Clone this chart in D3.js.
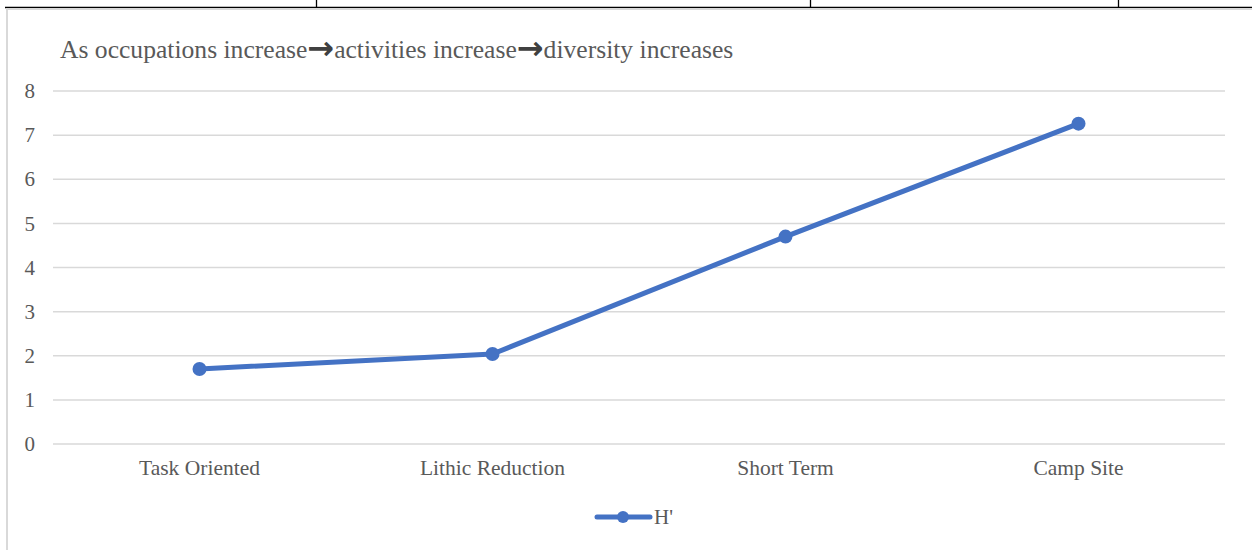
<!DOCTYPE html>
<html><head><meta charset="utf-8">
<script src="https://cdn.jsdelivr.net/npm/d3@7"></script>
<style>body{margin:0;background:#fff;} svg{display:block;}</style>
</head><body>
<svg id="c" width="1252" height="550"></svg>
<script>
const categories = ["Task Oriented", "Lithic Reduction", "Short Term", "Camp Site"];
const hValues = [1.70, 2.04, 4.70, 7.26];
const yTicks = [0, 1, 2, 3, 4, 5, 6, 7, 8];
const seriesName = "H'";
const titleParts = ["As occupations increase", "\u2192", "activities increase", "\u2192", "diversity increases"];

const svg = d3.select("#c");
const font = "'Liberation Serif','Times New Roman',serif";
const blue = "#4472C4";
const grey = "#595959";

// page frame remnants (table lines above chart)
svg.append("line").attr("x1",5).attr("x2",1252).attr("y1",7.5).attr("y2",7.5).attr("stroke","#000").attr("stroke-width",1.3);
[316, 810, 1118].forEach(x => svg.append("line").attr("x1",x+0.5).attr("x2",x+0.5).attr("y1",0).attr("y2",7).attr("stroke","#000").attr("stroke-width",1.3));
// chart border
svg.append("rect").attr("x",7).attr("y",9).attr("width",1260).attr("height",560).attr("fill","none").attr("stroke","#d9d9d9").attr("stroke-width",2);

const x = d3.scaleBand().domain(categories).range([53, 1225]);
const y = d3.scaleLinear().domain([0, 8]).range([444, 91]);

// gridlines
svg.append("g").selectAll("line").data(yTicks).join("line")
  .attr("x1",53).attr("x2",1225).attr("y1",d=>y(d)).attr("y2",d=>y(d))
  .attr("stroke","#d9d9d9").attr("stroke-width",1.5);

// y axis labels
const yAxis = d3.axisLeft(y).tickValues(yTicks).tickSize(0).tickPadding(0).tickFormat(d3.format("d"));
const ga = svg.append("g").attr("transform","translate(35,0)").call(yAxis);
ga.select(".domain").remove();
ga.selectAll("text").attr("font-family",font).attr("font-size",21).attr("fill",grey).attr("dy","0.32em");

// x axis labels
const xAxis = d3.axisBottom(x).tickSize(0).tickPadding(0);
const gx = svg.append("g").attr("transform","translate(0,460)").call(xAxis);
gx.select(".domain").remove();
gx.selectAll("text").attr("font-family",font).attr("font-size",21.5).attr("fill",grey).attr("dy","0.71em");

// title
const t = svg.append("text").attr("x",60).attr("y",58).attr("font-family",font).attr("font-size",25.6).attr("fill",grey);
titleParts.forEach((p,i) => {
  const ts = t.append("tspan").text(p);
  if (p === "\u2192") ts.attr("font-family","'DejaVu Sans',sans-serif").attr("font-weight","bold").attr("font-size",32).attr("fill","#404040").attr("dy",1);
  else if (i > 0) ts.attr("dy",-1);
});

// line
const pts = categories.map((c,i)=>({c, v:hValues[i]}));
const line = d3.line().x(d=>x(d.c)+x.bandwidth()/2).y(d=>y(d.v));
svg.append("path").datum(pts).attr("d",line).attr("fill","none").attr("stroke",blue).attr("stroke-width",5).attr("stroke-linejoin","round").attr("stroke-linecap","round");
svg.append("g").selectAll("circle").data(pts).join("circle")
  .attr("cx",d=>x(d.c)+x.bandwidth()/2).attr("cy",d=>y(d.v)).attr("r",7).attr("fill",blue);

// legend
const lg = svg.append("g").attr("transform","translate(0,517)");
lg.append("line").attr("x1",597).attr("x2",650).attr("y1",0).attr("y2",0).attr("stroke",blue).attr("stroke-width",5).attr("stroke-linecap","round");
lg.append("circle").attr("cx",623).attr("cy",0).attr("r",6).attr("fill",blue);
lg.append("text").attr("x",654).attr("y",0).attr("dy","0.35em").attr("font-family",font).attr("font-size",21).attr("fill",grey).text(seriesName);
</script>
</body></html>
